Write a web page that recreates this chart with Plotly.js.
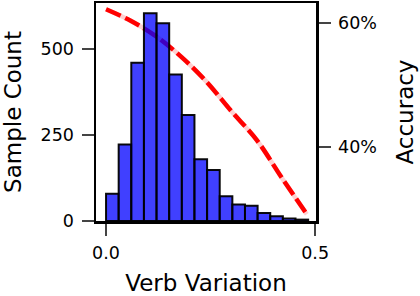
<!DOCTYPE html>
<html><head><meta charset="utf-8">
<script src="https://cdn.plot.ly/plotly-3.0.1.min.js"></script>
<style>html,body{margin:0;padding:0;background:#fff}#c{width:420px;height:296px}</style>
</head><body><div id="c"></div>
<script>
// Histogram of verb variation
const binCenters = [0.0151,0.0453,0.0755,0.1057,0.1359,0.1661,0.1963,0.2265,0.2567,0.2869,0.3171,0.3473,0.3775,0.4077,0.4379,0.4681];
const binWidth = 0.0302;
const sampleCounts = [79,222,459,602,573,425,307,179,148,72,48,44,23,14,7,4];
// Accuracy curve
const accX = [0.00,0.06,0.12,0.18,0.24,0.30,0.36,0.42,0.48];
const accY = [0.622,0.603,0.578,0.545,0.505,0.457,0.411,0.350,0.291];
const xTicks = [0.0,0.5];
const countTicks = [0,250,500];
const accTicks = [0.4,0.6];

const font = 'DejaVu Sans, sans-serif';
const traces = [
  {x: accX, y: accY, type:'scatter', mode:'lines', yaxis:'y', xaxis:'x',
   line:{color:'rgba(255,120,120,0.35)', width:4.5, shape:'spline'}, hoverinfo:'skip'},
  {x: accX, y: accY, type:'scatter', mode:'lines', yaxis:'y', xaxis:'x',
   line:{color:'#ff0000', width:4.5, dash:'16px,5px', shape:'spline'}},
  {x: binCenters, y: sampleCounts, type:'bar', yaxis:'y2', xaxis:'x',
   width: binCenters.map(()=>binWidth),
   marker:{color:'rgba(0,0,255,0.75)', line:{color:'rgba(0,0,0,0.95)', width:2}}}
];
const layout = {
  width:420, height:296, showlegend:false,
  paper_bgcolor:'#fff', plot_bgcolor:'#fff',
  margin:{l:96, r:104, t:3, b:75},
  font:{family:font, color:'#000', size:17.5},
  bargap:0,
  xaxis:{range:[-0.024,0.502], tickvals:xTicks, tickformat:'.1f', ticks:'outside', ticklen:12, tickwidth:2,
    showline:true, linewidth:2.5, linecolor:'#000', mirror:true, showgrid:false, zeroline:false,
    tickfont:{size:17.5}, ticklabelstandoff:2,
    title:{text:'Verb Variation', font:{size:23}, standoff:17}},
  yaxis:{range:[0.280,0.632], side:'right', tickvals:accTicks, tickformat:'.0%', ticks:'outside', ticklen:12, tickwidth:2,
    showline:true, linewidth:2.5, linecolor:'#000', showgrid:false, zeroline:false,
    tickfont:{size:17.5}, ticklabelstandoff:4,
    title:{text:'Accuracy', font:{size:23}, standoff:21}},
  yaxis2:{range:[0,632], overlaying:'y', side:'left', tickvals:countTicks, ticks:'outside', ticklen:12, tickwidth:2,
    showline:true, linewidth:2.5, linecolor:'#000', showgrid:false, zeroline:false,
    tickfont:{size:17.5}, ticklabelstandoff:4,
    title:{text:'Sample Count', font:{size:23}, standoff:17}}
};
Plotly.newPlot('c', traces, layout, {staticPlot:true});
</script></body></html>
